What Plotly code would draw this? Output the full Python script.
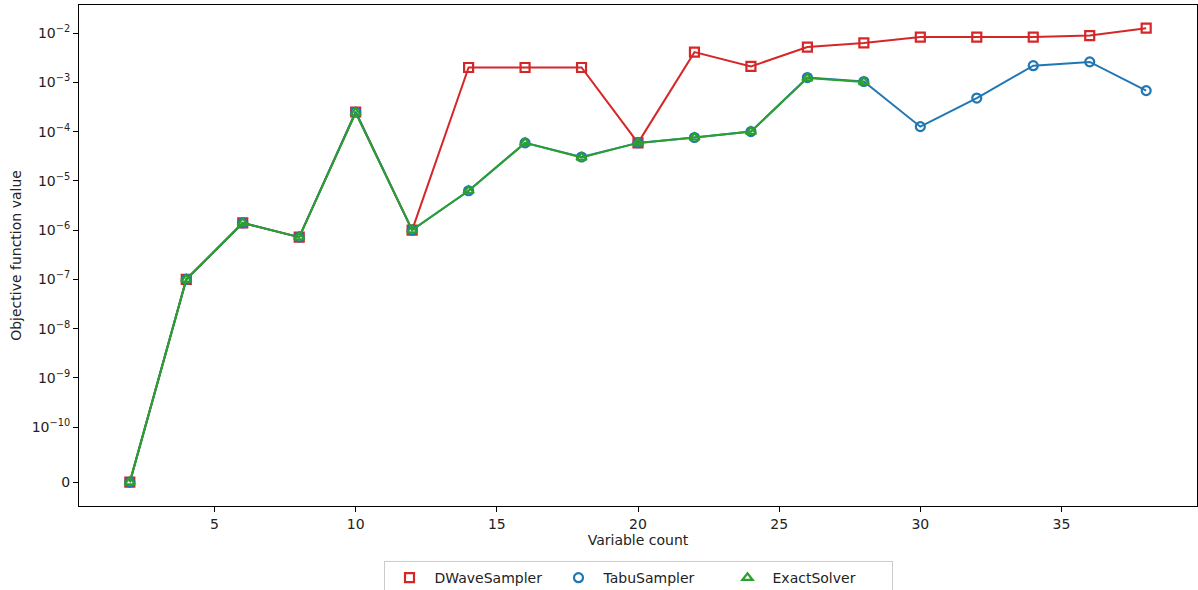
import math
import plotly.graph_objects as go

variable_count = [2, 4, 6, 8, 10, 12, 14, 16, 18, 20, 22, 24, 26, 28, 30, 32, 34, 36, 38]
dwave_values = [0, 1.0e-7, 1.4e-6, 7.2e-7, 2.5e-4, 1.0e-6, 2.0e-3, 2.0e-3, 2.0e-3, 5.9e-5,
                4.1e-3, 2.1e-3, 5.2e-3, 6.3e-3, 8.3e-3, 8.3e-3, 8.3e-3, 8.9e-3, 1.26e-2]
tabu_values = [0, 1.0e-7, 1.4e-6, 7.2e-7, 2.5e-4, 1.0e-6, 6.3e-6, 5.9e-5, 3.05e-5, 5.9e-5,
               7.6e-5, 1.0e-4, 1.25e-3, 1.04e-3, 1.26e-4, 4.8e-4, 2.18e-3, 2.6e-3, 6.8e-4]
exact_count = [2, 4, 6, 8, 10, 12, 14, 16, 18, 20, 22, 24, 26, 28]
exact_values = [0, 1.0e-7, 1.4e-6, 7.2e-7, 2.4e-4, 1.0e-6, 6.3e-6, 5.9e-5, 3.0e-5, 5.9e-5,
                7.6e-5, 1.0e-4, 1.22e-3, 1.02e-3]

series_names = ["DWaveSampler", "TabuSampler", "ExactSolver"]
ytick_exponents = [-10, -9, -8, -7, -6, -5, -4, -3, -2]
xtick_values = [5, 10, 15, 20, 25, 30, 35]

# symlog-like placement of exact zero below the log decades
ZERO_POS = 10 ** -11.115


def to_axis(vals):
    return [v if v > 0 else ZERO_POS for v in vals]


colors = ["#d62728", "#1f77b4", "#2ca02c"]
symbols = ["square-open", "circle-open", "triangle-up-open"]
font = "DejaVu Sans, Liberation Sans, sans-serif"

fig = go.Figure()
for name, xs, ys, c, s in zip(series_names,
                              [variable_count, variable_count, exact_count],
                              [dwave_values, tabu_values, exact_values],
                              colors, symbols):
    fig.add_trace(go.Scatter(
        x=xs, y=to_axis(ys), name=name, mode="lines+markers", showlegend=False,
        line=dict(color=c, width=2),
        marker=dict(symbol=s, size=9, color=c, line=dict(color=c, width=2.2)),
    ))
# legend entries show markers only, as in the reference
for name, c, s in zip(series_names, colors, symbols):
    fig.add_trace(go.Scatter(
        x=[None], y=[None], name=name, mode="markers", showlegend=True,
        marker=dict(symbol=s, size=9, color=c, line=dict(color=c, width=2.2)),
    ))

tickvals = [ZERO_POS] + [10 ** e for e in ytick_exponents]
ticktext = ["0"] + ["10<sup>\u2212%d</sup>" % (-e) for e in ytick_exponents]

fig.update_layout(
    width=1198, height=590,
    margin=dict(l=79, r=1, t=5, b=84, autoexpand=False),
    paper_bgcolor="white", plot_bgcolor="white",
    font=dict(family=font, size=14, color="#222"),
    showlegend=True,
    legend=dict(orientation="h", x=0.5, xanchor="center", y=-0.11, yanchor="top",
                bordercolor="#cccccc", borderwidth=1, font=dict(size=14),
                itemwidth=40, entrywidth=114, entrywidthmode="pixels", tracegroupgap=0),
    xaxis=dict(range=[0.2, 39.8], tickvals=xtick_values, showgrid=False, zeroline=False,
               showline=True, linecolor="black", linewidth=1, mirror=True, automargin=False,
               ticks="outside", ticklen=5, tickcolor="black",
               title=dict(text="Variable count", font=dict(size=14), standoff=4)),
    yaxis=dict(type="log", range=[-11.6, -1.43], tickvals=tickvals, ticktext=ticktext,
               showgrid=False, zeroline=False, automargin=False,
               showline=True, linecolor="black", linewidth=1, mirror=True,
               ticks="outside", ticklen=5, tickcolor="black",
               title=dict(text="Objective function value", font=dict(size=14), standoff=6)),
)

fig.write_html("out.html", config={"displayModeBar": False},
               post_script="document.body.style.margin='0px';")
